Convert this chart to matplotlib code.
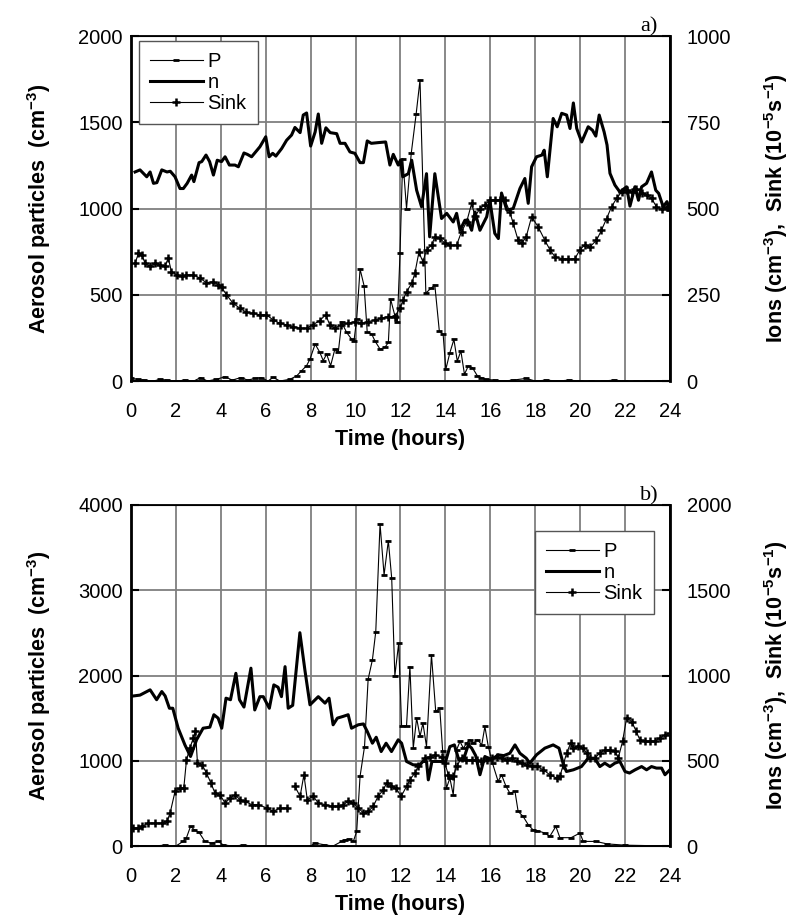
import numpy as np
import matplotlib
matplotlib.use("Agg")
import matplotlib.pyplot as plt
from matplotlib.lines import Line2D

plt.rcParams["font.family"] = ["Liberation Sans", "DejaVu Sans"]
plt.rcParams["mathtext.fontset"] = "custom"
plt.rcParams["mathtext.rm"] = "Liberation Sans"
plt.rcParams["mathtext.bf"] = "Liberation Sans:bold"

# ---------- Panel a data ----------
# P on left axis (cm^-3), n and Sink on right axis
p_a_t = [0.0, 0.3, 0.6, 1.0, 1.3, 1.6, 2.0, 2.4, 2.8, 3.1, 3.4, 3.8, 4.2, 4.5, 4.9, 5.2, 5.5, 5.8,
         6.1, 6.33, 6.63, 7.08, 7.38, 7.6, 7.82, 7.97, 8.2, 8.41, 8.56, 8.71, 8.89, 9.08, 9.23,
         9.38, 9.6, 9.82, 9.93, 10.05, 10.2, 10.38, 10.52, 10.72, 10.86, 11.09, 11.31, 11.46,
         11.56, 11.75, 11.86, 11.98, 12.1, 12.27, 12.48, 12.7, 12.87, 13.13, 13.38, 13.53,
         13.73, 13.9, 14.02, 14.2, 14.38, 14.53, 14.69, 14.85, 15.02, 15.2, 15.43, 15.6, 15.8,
         16.2, 16.6, 17.0, 17.6, 18.0, 18.5, 19.0, 19.5, 20.0, 20.5, 21.0, 21.5, 22.0, 22.5,
         23.0, 23.5, 24.0]
p_a = [15, 10, 5, 0, 10, 5, 0, 5, 0, 20, 0, 10, 25, 5, 20, 5, 15, 20,
       0, 21, 0, 10, 30, 60, 89, 127, 214, 166, 118, 156, 89, 185, 166,
       340, 282, 243, 233, 359, 649, 552, 282, 272, 233, 185, 195, 224,
       475, 379, 340, 741, 1290, 1000, 1320, 1550, 1745, 510, 540, 556,
       290, 271, 68, 164, 241, 115, 174, 39, 87, 78, 29, 20, 10,
       5, 0, 5, 15, 0, 5, 0, 5, 0, 0, 0, 5, 0, 0,
       0, 0, 0]

n_a_t = [0.18, 0.4, 0.7, 0.85, 1.0, 1.15, 1.37, 1.6, 1.75, 1.96, 2.18, 2.33, 2.5, 2.7, 2.8, 3.03,
         3.15, 3.34, 3.5, 3.67, 3.84, 4.03, 4.19, 4.38, 4.63, 4.78, 5.03, 5.18, 5.37, 5.74, 6.0,
         6.15, 6.31, 6.45, 6.71, 6.93, 7.15, 7.3, 7.53, 7.67, 7.82, 8.0, 8.2, 8.34, 8.49, 8.68,
         8.87, 9.16, 9.31, 9.53, 9.75, 9.97, 10.2, 10.35, 10.52, 10.7, 11.0, 11.34, 11.53, 11.68,
         11.9, 12.0, 12.1, 12.35, 12.5, 12.72, 12.94, 13.16, 13.3, 13.53, 13.83, 14.06, 14.35,
         14.5, 14.65, 14.87, 15.0, 15.17, 15.32, 15.54, 15.84, 15.98, 16.2, 16.36, 16.5, 16.74,
         17.02, 17.32, 17.54, 17.69, 17.84, 18.06, 18.3, 18.4, 18.54, 18.8, 18.98, 19.18, 19.4,
         19.55, 19.7, 19.85, 20.07, 20.36, 20.55, 20.7, 20.85, 21.07, 21.2, 21.33, 21.55, 21.77,
         22.07, 22.22, 22.44, 22.6, 22.74, 22.96, 23.18, 23.37, 23.5, 23.7, 23.87, 24.0]
n_a = [606, 612, 592, 606, 573, 575, 612, 606, 608, 592, 558, 558, 573, 597, 578, 633,
       636, 655, 636, 597, 640, 636, 650, 626, 626, 621, 661, 657, 650, 679, 708,
       650, 660, 652, 674, 698, 713, 735, 720, 771, 777, 681, 722, 774, 689, 734,
       720, 717, 689, 689, 664, 660, 633, 633, 696, 689, 691, 693, 626, 657,
       626, 640, 592, 601, 640, 553, 505, 601, 418, 601, 471, 486, 461,
       486, 437, 466, 466, 437, 490, 437, 476, 524, 428, 413, 545, 495,
       500, 558, 587, 515, 621, 650, 655, 669, 592, 761, 737, 776, 771,
       732, 806, 732, 693, 737, 727, 710, 771, 722, 684, 602, 568, 548,
       563, 507, 563, 524, 563, 573, 606, 553, 544, 505, 520, 495]

sink_a_t = [0.18, 0.33, 0.48, 0.63, 0.85, 1.07, 1.3, 1.5, 1.66, 1.8, 2.03, 2.25, 2.47, 2.77, 3.07,
            3.36, 3.66, 3.88, 4.03, 4.25, 4.55, 4.85, 5.14, 5.44, 5.73, 6.03, 6.33, 6.63, 6.93,
            7.22, 7.52, 7.82, 8.1, 8.4, 8.67, 8.85, 9.07, 9.37, 9.66, 9.96, 10.26, 10.56, 10.86,
            11.15, 11.45, 11.75, 11.98, 12.12, 12.27, 12.5, 12.64, 12.82, 13.0, 13.16, 13.39,
            13.53, 13.75, 13.98, 14.2, 14.5, 14.72, 14.95, 15.17, 15.32, 15.54, 15.76, 15.98,
            16.2, 16.42, 16.65, 16.87, 17.02, 17.24, 17.4, 17.6, 17.84, 18.13, 18.43, 18.66,
            18.88, 19.18, 19.47, 19.77, 19.99, 20.2, 20.44, 20.73, 20.95, 21.18, 21.4, 21.63,
            21.85, 22.07, 22.3, 22.51, 22.74, 22.96, 23.18, 23.4, 23.63, 23.85, 24.0]
sink_a = [341, 370, 365, 341, 332, 341, 337, 332, 356, 317, 308, 303, 308, 308, 298,
          285, 288, 279, 272, 250, 225, 211, 199, 196, 192, 192, 177, 167, 163,
          158, 153, 153, 163, 175, 192, 163, 153, 163, 167, 172, 167, 172, 177,
          182, 187, 187, 212, 235, 259, 283, 312, 373, 346, 380, 394,
          418, 414, 399, 394, 394, 433, 462, 515, 477, 500, 510, 525,
          525, 525, 525, 490, 457, 408, 399, 418, 476, 447, 408, 380,
          360, 355, 353, 355, 380, 394, 389, 408, 437, 471, 505, 530,
          548, 553, 548, 558, 544, 539, 530, 505, 500, 505, 495]

# ---------- Panel b data ----------
p_b_t = [0.0, 0.5, 1.0, 1.5, 2.0, 2.32, 2.47, 2.65, 2.82, 3.03, 3.29, 3.59, 3.88, 4.1, 4.5, 5.0,
         5.5, 6.0, 6.5, 7.0, 7.5, 8.0, 8.19, 8.6, 9.0, 9.38, 9.53, 9.73, 9.9, 10.05, 10.2, 10.4,
         10.56, 10.75, 10.9, 11.09, 11.27, 11.46, 11.61, 11.75, 11.92, 12.05, 12.27, 12.42,
         12.57, 12.72, 12.87, 13.0, 13.16, 13.38, 13.57, 13.75, 13.88, 14.05, 14.2, 14.35,
         14.5, 14.65, 14.8, 14.95, 15.1, 15.25, 15.43, 15.62, 15.76, 15.91, 16.1, 16.35, 16.5,
         16.7, 16.87, 17.1, 17.24, 17.46, 17.69, 17.9, 18.1, 18.43, 18.65, 18.92, 19.1, 19.6,
         19.99, 20.14, 20.7, 21.2, 22.0, 23.0, 24.0]
p_b = [0, 5, 0, 10, 0, 54, 98, 230, 191, 160, 54, 35, 54, 15, 0, 10,
       0, 5, 0, 0, 5, 0, 35, 15, 0, 54, 74, 80, 54, 171, 816, 1167,
       1957, 2183, 2515, 3777, 3180, 3582, 3140, 1996, 2379, 1410, 1410, 2105,
       1148, 1500, 1285, 1441, 1167, 2242, 1578, 1617, 1109, 680, 797, 601,
       1128, 1226, 1148, 1207, 1246, 1207, 1246, 1187, 1402, 1167, 970, 758, 836,
       700, 621, 640, 406, 348, 250, 191, 180, 152, 113, 230, 98, 98,
       152, 54, 54, 25, 10, 5, 5]

n_b_t = [0.1, 0.4, 0.85, 1.14, 1.37, 1.52, 1.71, 1.86, 2.1, 2.4, 2.65, 2.92, 3.21, 3.51, 3.69,
         3.88, 4.04, 4.23, 4.43, 4.67, 4.83, 5.03, 5.34, 5.51, 5.74, 5.89, 6.16, 6.36, 6.55,
         6.7, 6.86, 7.0, 7.2, 7.52, 7.75, 7.97, 8.34, 8.64, 8.82, 9.0, 9.19, 9.44, 9.67, 9.82,
         10.12, 10.35, 10.52, 10.75, 10.92, 11.14, 11.36, 11.6, 11.9, 12.05, 12.27, 12.57,
         12.87, 13.0, 13.16, 13.24, 13.4, 13.76, 14.0, 14.2, 14.4, 14.6, 14.8, 15.02, 15.17,
         15.35, 15.54, 15.76, 16.05, 16.35, 16.6, 16.87, 17.1, 17.32, 17.6, 17.76, 18.06,
         18.43, 18.8, 19.06, 19.24, 19.39, 19.7, 20.06, 20.36, 20.65, 20.88, 21.1, 21.33,
         21.55, 21.77, 22.0, 22.2, 22.45, 22.74, 22.96, 23.18, 23.4, 23.63, 23.78, 24.0]
n_b = [880, 885, 916, 858, 906, 880, 808, 808, 691, 593, 525, 623, 691, 697, 770,
       750, 691, 867, 858, 1013, 858, 815, 1043, 798, 876, 876, 808, 945, 931,
       876, 1052, 808, 825, 1251, 1026, 828, 876, 838, 867, 711, 750, 760, 770, 691,
       711, 716, 672, 603, 638, 554, 603, 554, 623, 603, 496, 476,
       476, 496, 496, 388, 496, 496, 490, 583, 593, 505, 505, 593, 574,
       530, 418, 525, 505, 535, 530, 544, 593, 544, 515, 486, 535,
       574, 593, 574, 486, 437, 447, 466, 515, 515, 466, 486, 466,
       486, 496, 437, 428, 447, 466, 447, 466, 457, 457, 418, 447]

sink_b_t = [0.1, 0.3, 0.5, 0.76, 1.06, 1.37, 1.6, 1.74, 1.96, 2.2, 2.35, 2.47, 2.62, 2.77, 2.87,
            2.96, 3.17, 3.36, 3.56, 3.74, 3.96, 4.19, 4.41, 4.63, 4.85, 5.07, 5.37, 5.67, 6.04,
            6.33, 6.63, 6.93, 7.1, 7.3, 7.53, 7.7, 7.85, 8.12, 8.34, 8.64, 8.94, 9.23, 9.46,
            9.68, 9.9, 10.12, 10.35, 10.57, 10.79, 11.0, 11.24, 11.38, 11.6, 11.8, 12.03, 12.27,
            12.42, 12.64, 12.79, 13.09, 13.31, 13.53, 13.83, 13.98, 14.13, 14.35, 14.5, 14.72,
            14.94, 15.17, 15.4, 15.6, 15.84, 16.06, 16.28, 16.5, 16.73, 16.95, 17.17, 17.4,
            17.62, 17.84, 18.07, 18.36, 18.65, 18.95, 19.1, 19.25, 19.4, 19.58, 19.7, 19.92,
            20.14, 20.29, 20.44, 20.66, 20.88, 21.1, 21.33, 21.55, 21.7, 21.89, 22.07, 22.3,
            22.5, 22.66, 22.88, 23.1, 23.33, 23.55, 23.78, 24.0]
sink_b = [105, 105, 115, 135, 135, 135, 145, 193, 320, 340, 340, 505, 574, 632, 672,
          486, 476, 428, 369, 310, 301, 252, 281, 301, 272, 262, 243, 243, 223,
          203, 223, 223, np.nan, 350, 291, 418, 272, 291, 252, 243, 233, 233, 243,
          262, 252, 223, 194, 203, 233, 291, 330, 369, 350, 340, 291, 350,
          389, 428, 467, 516, 525, 535, 525, 486, 418, 408, 467, 516,
          506, 506, 506, 496, 506, 516, 525, 516, 506, 516, 496, 486,
          477, 467, 467, 447, 418, 399, 408, 477, 545, 604, 574, 584,
          574, 545, 516, 516, 545, 564, 564, 555, 516, 613, 750, 730,
          672, 623, 613, 613, 613, 633, 652, 662]

hours = list(range(0, 25, 2))

TICK_FS = 14.5
LABEL_FS = 15.5


def draw_panel(rect, p_t, p, n_t, n, s_t, s, ymax, rticks, legend_anchor, legend_loc, tag):
    ax = fig.add_axes(rect)
    ax.set_xlim(0, 24)
    ax.set_ylim(0, ymax)
    ax.set_xticks(hours)
    ax.set_yticks(np.linspace(0, ymax, 5))
    ax.grid(True, color="#7f7f7f", linewidth=1.3)
    ax.set_axisbelow(True)
    ax.tick_params(axis="y", direction="in", length=6, width=1.5, labelsize=TICK_FS, pad=6)
    ax.tick_params(axis="x", length=0, labelsize=TICK_FS, pad=15)
    for sp in ax.spines.values():
        sp.set_linewidth(1.3)
    ax.spines["left"].set_linewidth(2)

    ax.plot(p_t, p, color="black", linewidth=0.8, marker="_", markersize=4, markeredgewidth=2)

    ax2 = ax.twinx()
    ax2.set_ylim(0, ymax / 2)
    ax2.set_yticks(rticks)
    ax2.tick_params(axis="y", direction="in", length=6, width=1.5, labelsize=TICK_FS, pad=12)
    ax2.spines["right"].set_linewidth(2)
    ax2.plot(n_t, n, color="black", linewidth=2.2)
    ax2.plot(s_t, s, color="black", linewidth=0.8, marker="+", markersize=6, markeredgewidth=1.8)

    ax.set_xlabel("Time (hours)", fontsize=LABEL_FS, fontweight="bold", labelpad=6)
    ax.set_ylabel(r"Aerosol particles  (cm$^{\mathbf{-3}}$)", fontsize=LABEL_FS,
                  fontweight="bold", labelpad=18)
    ax2.set_ylabel(r"Ions (cm$^{\mathbf{-3}}$),  Sink (10$^{\mathbf{-5}}$s$^{\mathbf{-1}}$)",
                   fontsize=LABEL_FS, fontweight="bold", rotation=90, labelpad=22)

    handles = [
        Line2D([], [], color="black", linewidth=0.8, marker="_", markersize=4, markeredgewidth=2),
        Line2D([], [], color="black", linewidth=2.2),
        Line2D([], [], color="black", linewidth=0.8, marker="+", markersize=6, markeredgewidth=1.8),
    ]
    leg = ax2.legend(handles, ["P", "n", "Sink"], loc=legend_loc, bbox_to_anchor=legend_anchor,
                     borderaxespad=0, fancybox=False, framealpha=1, edgecolor="#555555",
                     fontsize=14.5, handlelength=2.6, labelspacing=0.1, handletextpad=0.25,
                     borderpad=0.55)
    leg.get_frame().set_linewidth(1.0)
    ax.text(0.945, 1.0, tag, transform=ax.transAxes, fontsize=16, family="Liberation Serif",
            ha="left", va="bottom")
    return ax, ax2


fig = plt.figure(figsize=(7.96, 9.17), dpi=100)

draw_panel([0.1646, 0.5845, 0.677, 0.3762], p_a_t, p_a, n_a_t, n_a, sink_a_t, sink_a,
           2000, [0, 250, 500, 750, 1000], (0.015, 0.985), "upper left", "a)")
draw_panel([0.1646, 0.0774, 0.677, 0.3719], p_b_t, p_b, n_b_t, n_b, sink_b_t, sink_b,
           4000, [0, 500, 1000, 1500, 2000], (0.97, 0.925), "upper right", "b)")

fig.savefig("out.png", dpi=100)
